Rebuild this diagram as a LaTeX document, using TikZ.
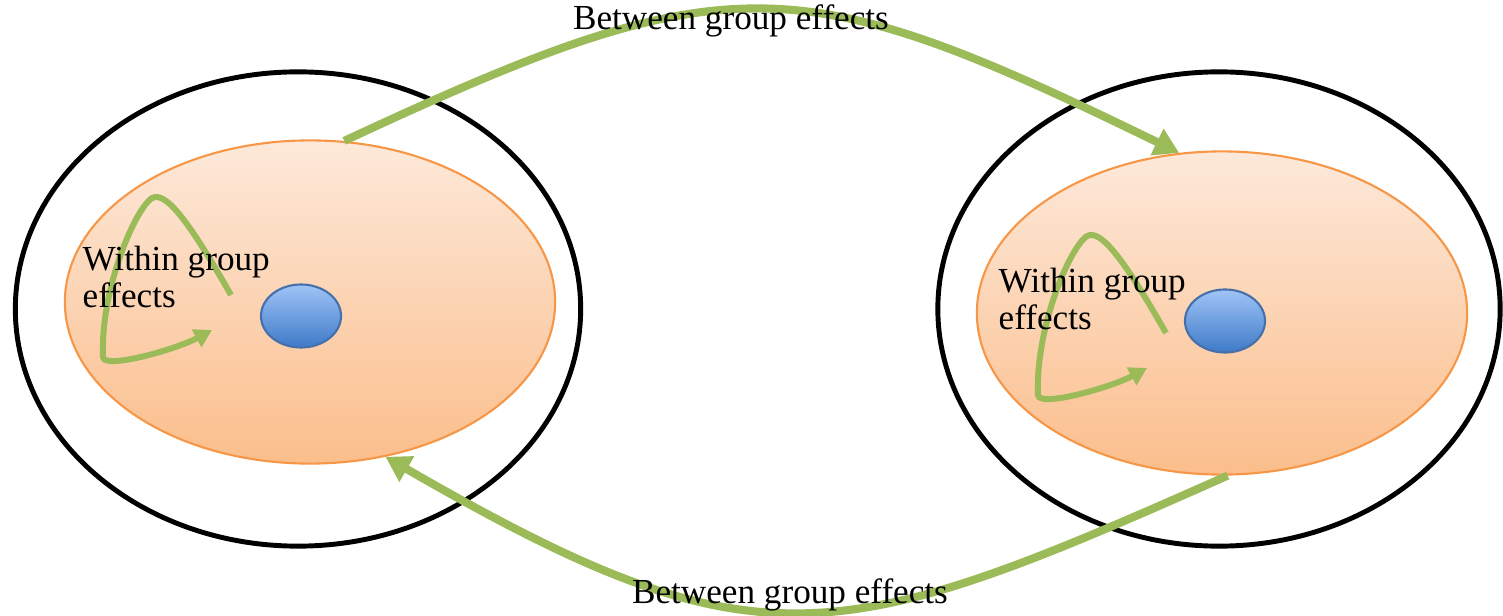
\documentclass[tikz,border=0pt]{standalone}
\usepackage{fontspec}
\setmainfont{Liberation Serif}
\usetikzlibrary{positioning,shapes.geometric,arrows.meta}

\definecolor{effgreen}{RGB}{155,187,89}
\definecolor{grouptop}{RGB}{253,233,218}
\definecolor{groupbot}{RGB}{251,190,140}
\definecolor{groupline}{RGB}{247,150,70}
\definecolor{celltop}{RGB}{160,196,246}
\definecolor{cellbot}{RGB}{62,122,200}
\definecolor{cellline}{RGB}{70,112,170}

\begin{document}
\begin{tikzpicture}[x=0.01cm,y=0.01cm,
    ring node/.style={ellipse,draw=black,line width=1.4pt},
    group node/.style={ellipse,draw=groupline,line width=0.6pt,top color=grouptop,bottom color=groupbot,minimum width=4.9cm,minimum height=3.23cm},
    cell node/.style={ellipse,draw=cellline,line width=0.6pt,top color=celltop,bottom color=cellbot,minimum width=0.8cm,minimum height=0.63cm},
    between/.style={draw=effgreen,line width=2.3pt,-{Triangle[length=7pt,width=8pt]}},
    within/.style={draw=effgreen,line width=1.7pt,-{Triangle[length=5pt,width=5.5pt]}},
    effect text/.style={font=\fontsize{10}{10.5}\selectfont,inner sep=0pt}
  ]
  \useasboundingbox (0,0) rectangle (1503,615);

  % left group
  \node[ring node,minimum width=5.65cm,minimum height=4.74cm] (lring) at (298,306) {};
  \node[group node] (lgroup) at (310,313) {};
  \node[cell node] (lcell) at (301,299) {};

  % right group
  \node[ring node,minimum width=5.62cm,minimum height=4.74cm] (rring) at (1219,306) {};
  \node[group node] (rgroup) at (1222,302) {};
  \node[cell node] (rcell) at (1225,294) {};

  % between group effects
  \draw[between] (lgroup.78) to[out=25,in=154,looseness=1.3] (rgroup.105);
  \draw[between] (rgroup.-88) to[out=204,in=-30,looseness=1.3] (lgroup.-64);

  % within group effects
  \coordinate (lwstart) at (231,320);
  \coordinate (lwend) at (212,285);
  \coordinate (rwstart) at (1166,282);
  \coordinate (rwend) at (1147,247);
  \draw[within] (lwstart) .. controls (195,383) and (170,420) .. (155,418)
                          .. controls (140,417) and (100,330) .. (103,258)
                          .. controls (104,245) and (177,266) .. (lwend);
  \draw[within] (rwstart) .. controls (1130,345) and (1105,382) .. (1090,380)
                          .. controls (1075,379) and (1035,292) .. (1038,220)
                          .. controls (1039,207) and (1112,228) .. (rwend);

  \node[effect text,anchor=north west,align=left] (ltext) at (82,370) {Within group\\effects};
  \node[effect text,anchor=north west,align=left] (rtext) at (998,348) {Within group\\effects};
  \node[effect text,anchor=base] (topeff) at (731,585) {Between group effects};
  \node[effect text,anchor=base] (boteff) at (790,12) {Between group effects};
\end{tikzpicture}
\end{document}
